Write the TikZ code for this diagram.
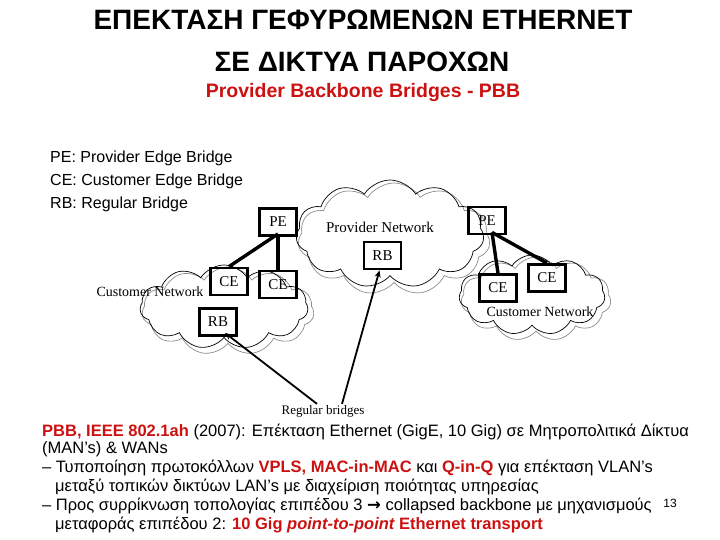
\documentclass[tikz,border=0pt]{standalone}
\usepackage{fontspec}
\setmainfont{Liberation Sans}
\newfontfamily\serifx{Liberation Serif}
\newfontfamily\arrowfont{DejaVu Sans}
\usetikzlibrary{shapes.symbols,arrows.meta}
\definecolor{pbbred}{RGB}{204,17,17}
\definecolor{cloudgray}{RGB}{140,140,140}
\begin{document}
\begin{tikzpicture}[x=1pt,y=-1pt,
  bridge/.style={draw, line width=2.8pt, minimum width=37pt, minimum height=27pt, inner sep=0pt, font=\serifx\fontsize{15}{15}\selectfont},
  link/.style={line width=3.4pt},
  pointer/.style={line width=1.8pt, -{Stealth[length=7pt,width=6pt]}},
  cloudbase/.style={cloud, cloud ignores aspect, cloud puffs=11, cloud puff arc=115, inner sep=0pt},
  cloudblk/.style={cloudbase, draw=black, line width=0.7pt},
  cloudgry/.style={cloudbase, draw=cloudgray, line width=0.7pt},
  netlabel/.style={font=\serifx\fontsize{14}{14}\selectfont, inner sep=0pt},
  legend/.style={anchor=west, inner sep=0pt, font=\fontsize{16}{16}\selectfont},
  body/.style={anchor=west, inner sep=0pt, font=\fontsize{16.5}{16.5}\selectfont}
]
\useasboundingbox (0,0) rectangle (720,540);

% titles
\node[font=\bfseries\fontsize{28}{28}\selectfont] (t1) at (363,20) {ΕΠΕΚΤΑΣΗ ΓΕΦΥΡΩΜΕΝΩΝ ETHERNET};
\node[font=\bfseries\fontsize{28}{28}\selectfont] (t2) at (362,62) {ΣΕ ΔΙΚΤΥΑ ΠΑΡΟΧΩΝ};
\node[font=\bfseries\fontsize{19.5}{19.5}\selectfont, text=pbbred] (t3) at (363,93) {Provider Backbone Bridges - PBB};

% legend
\node[legend] (l1) at (50,158) {PE: Provider Edge Bridge};
\node[legend] (l2) at (50,181) {CE: Customer Edge Bridge};
\node[legend] (l3) at (50,204) {RB: Regular Bridge};

% clouds
\node[cloudgry, minimum width=192pt, minimum height=112pt] (pcg) at (394,239) {};
\node[cloudblk, minimum width=188pt, minimum height=108pt] (pc) at (390,234) {};
\node[cloudgry, minimum width=172pt, minimum height=88pt] (lcg) at (228,311) {};
\node[cloudblk, minimum width=168pt, minimum height=84pt] (lc) at (224,307) {};
\node[cloudgry, minimum width=150pt, minimum height=84pt] (rcg) at (536,299) {};
\node[cloudblk, minimum width=146pt, minimum height=80pt] (rc) at (532,295) {};

% network labels
\node[netlabel, font=\serifx\fontsize{15}{15}\selectfont] (pn) at (380,227) {Provider Network};
\node[netlabel] (lcn) at (150,292) {Customer Network};
\node[netlabel] (rcn) at (540,312) {Customer Network};

% bridges
\node[bridge] (pel) at (278,222) {PE};
\node[bridge] (cel1) at (229,281.5) {CE};
\node[bridge] (cel2) at (278,284.5) {CE};
\node[bridge] (rbl) at (218,322) {RB};
\node[bridge] (per) at (487,220.5) {PE};
\node[bridge] (rbm) at (382.5,255.5) {RB};
\node[bridge] (cer1) at (498,288) {CE};
\node[bridge] (cer2) at (547,278) {CE};

% links
\coordinate (pelj) at ([yshift=3pt]pel.south);
\coordinate (perj) at ([xshift=5pt,yshift=3pt]per.south);
\draw[link] (pelj) -- (cel1.north);
\draw[link] (pelj) -- (cel2.north);
\draw[link] (perj) -- (cer1.north);
\draw[link] (perj) -- (cer2.north);

% regular bridges pointers
\node[font=\serifx\fontsize{13}{13}\selectfont, inner sep=0pt] (rbtxt) at (323,411) {Regular bridges};
\draw[pointer] ([xshift=-6pt,yshift=1pt]rbtxt.north) -- ([xshift=7pt,yshift=4pt]rbl.south);
\draw[pointer] ([xshift=19pt,yshift=1pt]rbtxt.north) -- ([xshift=-3pt]rbm.south);

% body text
\node[body] (b1) at (42,432) {\textcolor{pbbred}{\bfseries PBB, IEEE 802.1ah} (2007): Επέκταση Ethernet (GigE, 10 Gig) σε Μητροπολιτικά Δίκτυα};
\node[body] (b2) at (42,449) {(MAN's) \& WANs};
\node[body] (b3) at (42,468) {– Τυποποίηση πρωτοκόλλων \textcolor{pbbred}{\bfseries VPLS, MAC-in-MAC} και \textcolor{pbbred}{\bfseries Q-in-Q} για επέκταση VLAN's};
\node[body] (b4) at (55,487) {μεταξύ τοπικών δικτύων LAN's με διαχείριση ποιότητας υπηρεσίας};
\node[body] (b5) at (42,506) {– Προς συρρίκνωση τοπολογίας επιπέδου 3 {\arrowfont\bfseries →} collapsed backbone με μηχανισμούς};
\node[body] (b6) at (55,525) {μεταφοράς επιπέδου 2: \textcolor{pbbred}{\bfseries 10 Gig \itshape point-to-point\upshape{} Ethernet transport}};
\node[font=\fontsize{12}{12}\selectfont, inner sep=0pt] (pg) at (670,503) {13};
\end{tikzpicture}
\end{document}
